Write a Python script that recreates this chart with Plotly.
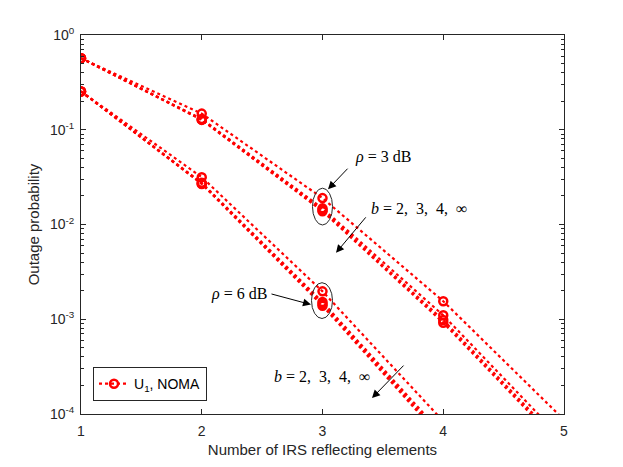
import plotly.graph_objects as go

# Data (outage probability vs. number of IRS elements)
n_elements = [1, 2, 3, 4, 5]

# rho = 3 dB, b = 2, 3, 4, inf
p3_b2 = [0.57, 0.148, 0.0190, 0.00155, 8.7e-5]
p3_b3 = [0.57, 0.130, 0.0148, 0.00110, 5.2e-5]
p3_b4 = [0.57, 0.128, 0.0142, 0.00098, 4.6e-5]
p3_binf = [0.57, 0.127, 0.0138, 0.00092, 4.3e-5]

# rho = 6 dB, b = 2, 3, 4, inf
p6_b2 = [0.254, 0.0316, 0.00197, 8.4e-5, 2.5e-6]
p6_b3 = [0.254, 0.0275, 0.00152, 6.0e-5, 1.6e-6]
p6_b4 = [0.254, 0.0270, 0.00145, 5.6e-5, 1.4e-6]
p6_binf = [0.254, 0.0268, 0.00139, 5.3e-5, 1.3e-6]

ytick_vals = [1e-4, 1e-3, 1e-2, 1e-1, 1]
ytick_text = ["10<sup>-4</sup>", "10<sup>-3</sup>", "10<sup>-2</sup>", "10<sup>-1</sup>", "10<sup>0</sup>"]
xtick_vals = [1, 2, 3, 4, 5]

RED = "#ff0000"
AX = "#262626"

# page body has an 8px margin, so the figure starts at (8, 8) on screen
OFF = 8
W, H = 623 - OFF, 467 - OFF
# plot area on screen: x 81..564, y 35..416
SX0, SX1, SY0, SY1 = 81, 564, 35, 416
L, R, T, B = SX0 - OFF, 623 - SX1, SY0 - OFF, 467 - SY1


def px(x):
    return (x - SX0) / (SX1 - SX0)


def py(y):
    return (SY1 - y) / (SY1 - SY0)


fig = go.Figure()

series = [p3_b2, p3_b3, p3_b4, p3_binf, p6_b2, p6_b3, p6_b4, p6_binf]
for i, s in enumerate(series):
    fig.add_trace(go.Scatter(
        x=n_elements, y=s,
        mode="lines+markers",
        name="U<sub>1</sub>, NOMA",
        showlegend=(i == 0),
        line=dict(color=RED, width=2.2, dash="dot"),
        marker=dict(symbol="circle-open", size=8, color=RED, line=dict(color=RED, width=2.5)),
        cliponaxis=True,
    ))

# ellipses around the clustered markers at N = 3
fig.add_shape(type="circle", xref="paper", yref="paper",
              x0=px(312.5), x1=px(332.5), y0=py(226), y1=py(189),
              line=dict(color=AX, width=1))
fig.add_shape(type="circle", xref="paper", yref="paper",
              x0=px(311.5), x1=px(332.5), y0=py(320), y1=py(284),
              line=dict(color=AX, width=1))

serif = dict(family="Liberation Serif", size=16, color="black")


def arrow(x0, y0, x1, y1):
    fig.add_annotation(xref="paper", yref="paper", x=px(x1), y=py(y1),
                       ax=x0 - x1, ay=y0 - y1, axref="pixel", ayref="pixel",
                       text="", showarrow=True, arrowhead=2, arrowsize=1.6,
                       arrowwidth=1, arrowcolor="black")


def label(x, y, text, anchor="left"):
    fig.add_annotation(xref="paper", yref="paper", x=px(x), y=py(y),
                       text=text, showarrow=False, font=serif,
                       xanchor=anchor, yanchor="middle")


label(353, 158, "<i>ρ</i> = 3 dB")
arrow(349, 168, 328, 190)
label(369, 209, "<i>b</i> = 2,  3,  4,  ∞")
arrow(367, 217, 336, 254)
label(209, 295, "<i>ρ</i> = 6 dB")
arrow(270, 295, 311, 306)
label(272, 378, "<i>b</i> = 2,  3,  4,  ∞")
arrow(405, 366, 372, 400)

fig.update_layout(
    width=W, height=H,
    margin=dict(l=L, r=R, t=T, b=B),
    plot_bgcolor="white",
    paper_bgcolor="white",
    font=dict(family="Liberation Sans", size=14, color=AX),
    showlegend=True,
    legend=dict(
        x=px(93), y=py(403), xanchor="left", yanchor="bottom",
        bgcolor="white", bordercolor=AX, borderwidth=1,
        font=dict(family="Liberation Sans", size=14, color="black"),
        tracegroupgap=0,
    ),
)

fig.update_xaxes(
    range=[1, 5], tickvals=xtick_vals,
    title=dict(text="Number of IRS reflecting elements", font=dict(size=15, color=AX), standoff=6),
    showline=True, linecolor=AX, linewidth=1, mirror="ticks",
    ticks="inside", ticklen=5, tickcolor=AX, showgrid=False, zeroline=False,
    tickfont=dict(size=14, color=AX), ticklabelstandoff=4,
)
fig.update_yaxes(
    type="log", range=[-4, 0], tickvals=ytick_vals, ticktext=ytick_text,
    title=dict(text="Outage probability", font=dict(size=15, color=AX), standoff=6),
    showline=True, linecolor=AX, linewidth=1, mirror="ticks",
    ticks="inside", ticklen=5, tickcolor=AX, showgrid=False, zeroline=False,
    tickfont=dict(size=14, color=AX), ticklabelstandoff=3,
    minor=dict(ticks="inside", ticklen=3, tickcolor=AX, dtick="D1", showgrid=False),
)

fig.write_html("out.html")
